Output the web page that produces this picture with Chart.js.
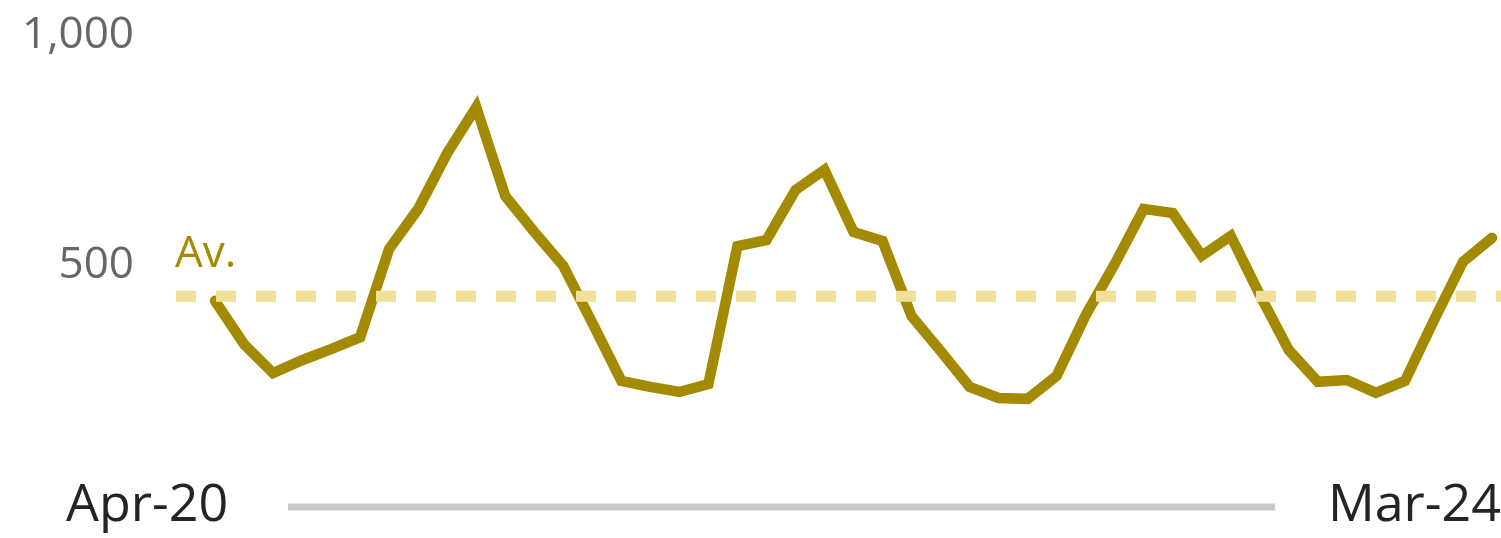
<!DOCTYPE html>
<html>
<head>
<meta charset="utf-8">
<script src="https://cdn.jsdelivr.net/npm/chart.js@4.4.1/dist/chart.umd.min.js"></script>
<style>
  html, body { margin: 0; padding: 0; background: #fff; }
  #wrap { width: 1501px; height: 538px; position: relative; }
</style>
</head>
<body>
<div id="wrap"><canvas id="trendChart"></canvas></div>
<script>
// values
const values = [
  422, 328, 265, 293, 317, 343, 535, 622, 743, 843,
  650, 572, 498, 374, 248, 235, 224, 241, 541, 554,
  663, 707, 572, 552, 389, 313, 235, 211, 209, 259,
  391, 502, 622, 613, 520, 563, 435, 315, 246, 250,
  222, 248, 380, 507, 559
];
const average = 432;
const yTicks = [500, 1000];
const periodStart = "Apr-20";
const periodEnd = "Mar-24";
const categories = values.map((v, i) => i + 1);

const olive = "#a38a00";
const font = "'Open Sans', 'Noto Sans', sans-serif";

// axis labels, average line and period bar drawn on top of the chart
const overlay = {
  id: "overlay",
  afterDatasetsDraw(chart) {
    const ctx = chart.ctx;
    const y = chart.scales.y;
    ctx.save();

    // y tick labels
    ctx.fillStyle = "#666666";
    ctx.font = "44px " + font;
    ctx.textAlign = "right";
    ctx.textBaseline = "middle";
    yTicks.forEach(t => {
      ctx.fillText(t.toLocaleString("en-US"), 134, y.getPixelForValue(t));
    });

    // average line
    const avgY = y.getPixelForValue(average);
    ctx.strokeStyle = "#f0e09a";
    ctx.lineWidth = 11;
    ctx.setLineDash([20, 20]);
    ctx.beginPath();
    ctx.moveTo(176, avgY);
    ctx.lineTo(chart.width, avgY);
    ctx.stroke();
    ctx.setLineDash([]);

    ctx.fillStyle = olive;
    ctx.font = "44px " + font;
    ctx.textAlign = "left";
    ctx.textBaseline = "alphabetic";
    ctx.fillText("Av.", 175, avgY - 29);

    // period labels and bar
    ctx.fillStyle = "#252423";
    ctx.font = "52px " + font;
    ctx.textBaseline = "middle";
    ctx.textAlign = "left";
    ctx.fillText(periodStart, 66, 506);
    ctx.textAlign = "right";
    ctx.fillText(periodEnd, 1501, 506);

    ctx.strokeStyle = "#c8c8c8";
    ctx.lineWidth = 7;
    ctx.beginPath();
    ctx.moveTo(288, 507);
    ctx.lineTo(1275, 507);
    ctx.stroke();

    ctx.restore();
  }
};

new Chart(document.getElementById("trendChart"), {
  type: "line",
  data: {
    labels: categories,
    datasets: [
      {
        data: values,
        borderColor: olive,
        borderWidth: 10.5,
        borderCapStyle: "round",
        borderJoinStyle: "miter",
        pointRadius: 0,
        tension: 0,
        clip: false,
      },
    ],
  },
  options: {
    responsive: true,
    maintainAspectRatio: false,
    animation: false,
    layout: {
      padding: { left: 215, right: 9, top: 35, bottom: 43 },
    },
    plugins: {
      legend: { display: false },
      tooltip: { enabled: false },
    },
    scales: {
      x: { display: false, offset: false },
      y: { display: false, min: 0, max: 1000 },
    },
  },
  plugins: [overlay],
});
</script>
</body>
</html>
